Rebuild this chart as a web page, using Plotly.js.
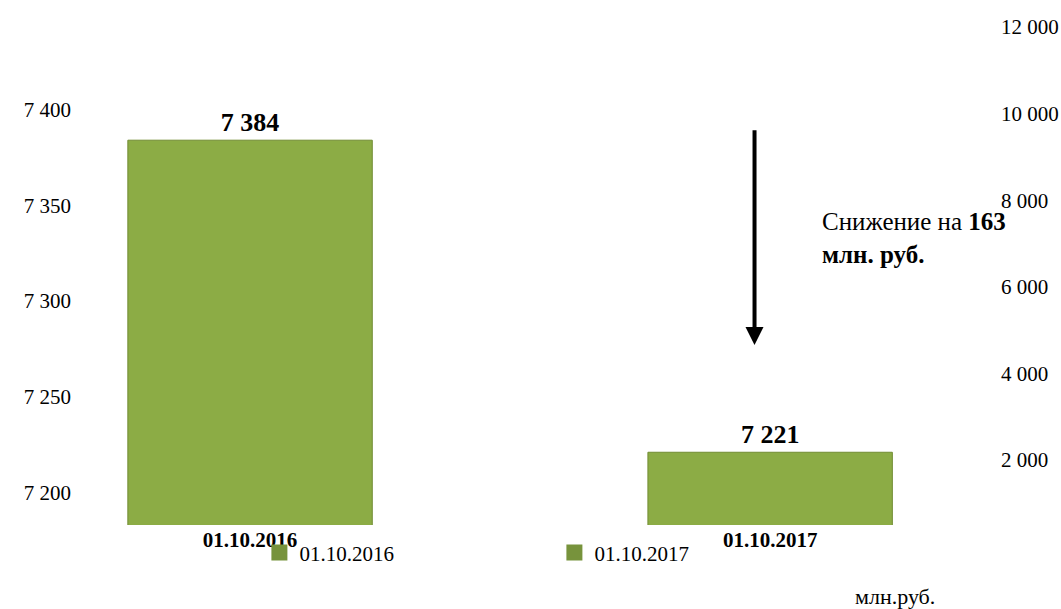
<!DOCTYPE html>
<html><head><meta charset="utf-8">
<script src="https://cdn.plot.ly/plotly-3.0.1.min.js"></script>
<style>html,body{margin:0;padding:0;background:#fff}#c{width:1061px;height:609px}</style>
</head><body><div id="c"></div>
<script>
const categories = ['01.10.2016', '01.10.2017'];
const values = [7384, 7221];
const leftTicks = [7200, 7250, 7300, 7350, 7400];
const rightTicks = [2000, 4000, 6000, 8000, 10000, 12000];
const decrease = values[0] - values[1];
const unitLabel = 'млн.руб.';

const serif = '"Liberation Serif", "Times New Roman", serif';
const barColor = '#8cac45';
const legendColor = '#77933c';

const traces = [];
categories.forEach((c, i) => {
  traces.push({
    type: 'bar', x: [c], y: [values[i]], name: c, showlegend: false,
    width: 0.47,
    marker: {color: barColor, line: {color: '#718c33', width: 1}},
    texttemplate: '%{y:,d}', textposition: 'outside', cliponaxis: false,
    textfont: {family: serif, size: 26, color: '#000', weight: 'bold'},
    hoverinfo: 'skip'
  });
});
categories.forEach((c, i) => {
  traces.push({
    type: 'scatter', mode: 'markers', x: [null], y: [null], name: c,
    xaxis: 'x', yaxis: 'y2', showlegend: true,
    marker: {symbol: 'square', size: 19, color: legendColor}
  });
});

const layout = {
  width: 1061, height: 609,
  margin: {l: 80, r: 61, t: 20, b: 84},
  paper_bgcolor: '#fff', plot_bgcolor: 'rgba(0,0,0,0)',
  separators: ', ',
  barmode: 'overlay',
  showlegend: true,
  font: {family: serif, size: 21, color: '#000'},
  xaxis: {
    type: 'category', range: [-0.327, 1.442],
    showgrid: false, zeroline: false, showline: false, ticks: '',
    tickfont: {family: serif, size: 21, color: '#000', weight: 'bold'},
    anchor: 'y'
  },
  yaxis: {
    domain: [0, 0.8416], range: [7183, 7405],
    tickvals: leftTicks, tickformat: ',d',
    showgrid: false, zeroline: false, showline: false, ticks: '',
    tickfont: {family: serif, size: 21, color: '#000'},
    ticklabelstandoff: 8
  },
  yaxis2: {
    domain: [0, 1], range: [499, 12162], anchor: 'x', side: 'right',
    tickvals: rightTicks, tickformat: ',d',
    showgrid: false, zeroline: false, showline: false, ticks: '',
    tickfont: {family: serif, size: 21, color: '#000'},
    ticklabelstandoff: 0
  },
  legend: {
    orientation: 'h', x: 0.195, xanchor: 'left', y: -0.055, yanchor: 'middle',
    font: {family: serif, size: 21, color: '#000'},
    entrywidth: 250, entrywidthmode: 'pixels', bgcolor: 'rgba(0,0,0,0)'
  },
  annotations: [
    {
      x: 0.97, y: 7277, xref: 'x', yref: 'y',
      ax: 0.97, ay: 7390, axref: 'x', ayref: 'y',
      showarrow: true, arrowhead: 2, arrowsize: 0.9, arrowwidth: 4, arrowcolor: '#000', text: ''
    },
    {
      x: 1.095, y: 7333, xref: 'x', yref: 'y', xanchor: 'left', yanchor: 'middle', align: 'left',
      showarrow: false,
      text: 'Снижение на <b>' + decrease + '</b><br><b>млн. руб.</b>',
      font: {family: serif, size: 25, color: '#000'}
    },
    {
      x: 0.886, y: -0.142, xref: 'paper', yref: 'paper', xanchor: 'center', yanchor: 'middle',
      showarrow: false, text: unitLabel,
      font: {family: serif, size: 22, color: '#000'}
    }
  ]
};

Plotly.newPlot('c', traces, layout, {displayModeBar: false, staticPlot: true});
</script></body></html>
